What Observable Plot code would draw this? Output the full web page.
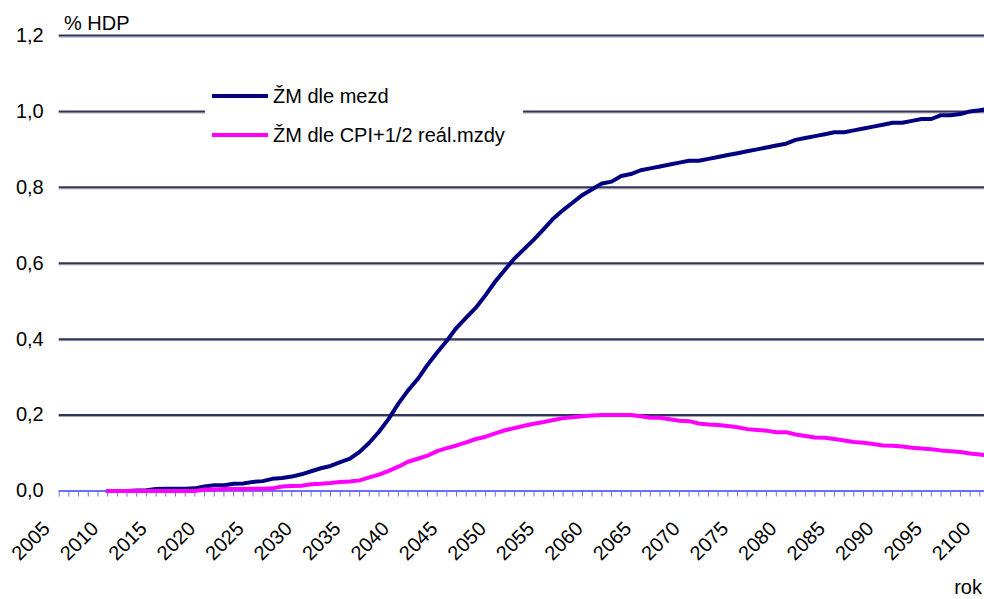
<!DOCTYPE html>
<html><head><meta charset="utf-8">
<script src="https://cdn.jsdelivr.net/npm/d3@7"></script>
<script src="https://cdn.jsdelivr.net/npm/@observablehq/plot@0.6"></script>
<style>
body{margin:0;background:#fff;}
#chart svg{font-family:"Liberation Sans",Arial,sans-serif;display:block;}
</style>
</head><body><div id="chart"></div>
<script>
// ---- data ----
const years = d3.range(2010, 2102);
const mezd = [
  0.000,0.000,0.000,0.001,0.002,0.005,0.006,0.006,0.006,0.007,
  0.012,0.015,0.015,0.019,0.020,0.024,0.026,0.032,0.034,0.038,
  0.044,0.052,0.060,0.066,0.076,0.085,0.103,0.127,0.156,0.190,
  0.230,0.265,0.295,0.332,0.365,0.396,0.430,0.457,0.483,0.516,
  0.552,0.583,0.613,0.638,0.663,0.690,0.718,0.740,0.760,0.780,
  0.795,0.810,0.815,0.830,0.835,0.845,0.850,0.855,0.860,0.865,
  0.870,0.870,0.875,0.880,0.885,0.890,0.895,0.900,0.905,0.910,
  0.915,0.925,0.930,0.935,0.940,0.945,0.945,0.950,0.955,0.960,
  0.965,0.970,0.970,0.975,0.980,0.980,0.990,0.990,0.993,1.000,
  1.003,1.008
];
const cpi = [
  0.000,0.000,0.000,0.000,0.000,0.000,0.000,0.000,0.000,0.000,
  0.004,0.004,0.005,0.005,0.005,0.006,0.006,0.007,0.012,0.013,
  0.014,0.018,0.019,0.021,0.024,0.025,0.028,0.036,0.043,0.053,
  0.064,0.077,0.085,0.093,0.105,0.113,0.120,0.128,0.137,0.143,
  0.152,0.160,0.166,0.172,0.177,0.182,0.187,0.192,0.194,0.197,
  0.199,0.200,0.200,0.200,0.200,0.197,0.193,0.193,0.189,0.185,
  0.184,0.178,0.175,0.174,0.171,0.168,0.163,0.161,0.159,0.155,
  0.155,0.149,0.145,0.141,0.140,0.137,0.133,0.129,0.127,0.124,
  0.120,0.119,0.117,0.114,0.112,0.110,0.107,0.105,0.103,0.099,
  0.096,0.093
];
const seriesNames = ["ŽM dle mezd", "ŽM dle CPI+1/2 reál.mzdy"];
const seriesColors = ["#000080", "#ff00ff"];
const tickYears = d3.range(2005, 2101);
const labelYears = d3.range(2005, 2101, 5);
const yTicks = [0, 0.2, 0.4, 0.6, 0.8, 1.0, 1.2];
const gridValues = [0.2, 0.4, 0.6, 0.8, 1.0, 1.2];
const yTitle = "% HDP";
const xTitle = "rok";

const data = [];
years.forEach((yr, i) => {
  data.push({year: yr, v: mezd[i], s: seriesNames[0]});
});
years.forEach((yr, i) => {
  data.push({year: yr, v: cpi[i], s: seriesNames[1]});
});

const axisColor = "#6e6ef2";
const FS = 20;

const plot = Plot.plot({
  width: 984, height: 599,
  marginLeft: 58.7, marginRight: 4.7, marginTop: 35, marginBottom: 108.5,
  style: {fontFamily: '"Liberation Sans", Arial, sans-serif', fontSize: FS + "px", color: "#000", background: "#fff", overflow: "hidden"},
  x: {domain: [2005, 2100], label: null},
  y: {domain: [0, 1.2], label: null},
  color: {domain: seriesNames, range: seriesColors},
  marks: [
    Plot.ruleY(gridValues, {x1: 2005, x2: 2102, stroke: "#a0a0a0", strokeWidth: 1, dy: 1.5}),
    Plot.ruleY(gridValues, {x1: 2005, x2: 2102, stroke: "#33335f", strokeWidth: 2}),
    Plot.axisY({ticks: yTicks, tickSize: 0, tickPadding: 15.5, label: null,
      tickFormat: d => d3.format(".1f")(d).replace(".", ","), fontSize: FS, fill: "#000"}),
    Plot.axisX({ticks: tickYears, tickSize: 6, tickFormat: () => "", label: null, stroke: axisColor, strokeWidth: 1}),
    Plot.ruleY([0], {x1: 2005, x2: 2102, stroke: axisColor, strokeWidth: 2}),
    Plot.text(labelYears, {x: d => d, frameAnchor: "bottom", text: d => String(d), rotate: -45,
      textAnchor: "end", lineAnchor: "bottom", dx: -8, dy: 39, fontSize: FS, fill: "#000"}),
    Plot.line(data, {x: "year", y: "v", z: "s", stroke: "s", strokeWidth: 4, strokeLinejoin: "round"})
  ]
});

const svg = d3.select(plot);
// titles
svg.append("text").attr("x", 64).attr("y", 30).attr("text-anchor", "start").attr("font-size", FS).attr("fill", "#000").text(yTitle);
svg.append("text").attr("x", 982).attr("y", 594).attr("text-anchor", "end").attr("font-size", FS).attr("fill", "#000").text(xTitle);
// legend
const lg = svg.append("g");
lg.append("rect").attr("x", 205).attr("y", 84).attr("width", 318).attr("height", 62).attr("fill", "#fff");
seriesNames.forEach((name, i) => {
  const cy = 96 + i * 39;
  lg.append("line").attr("x1", 212).attr("x2", 268).attr("y1", cy).attr("y2", cy)
    .attr("stroke", seriesColors[i]).attr("stroke-width", 4);
  lg.append("text").attr("x", 273).attr("y", cy + 7).attr("text-anchor", "start")
    .attr("font-size", FS).attr("fill", "#000").text(name);
});

document.getElementById("chart").appendChild(plot);
</script>
</body></html>
